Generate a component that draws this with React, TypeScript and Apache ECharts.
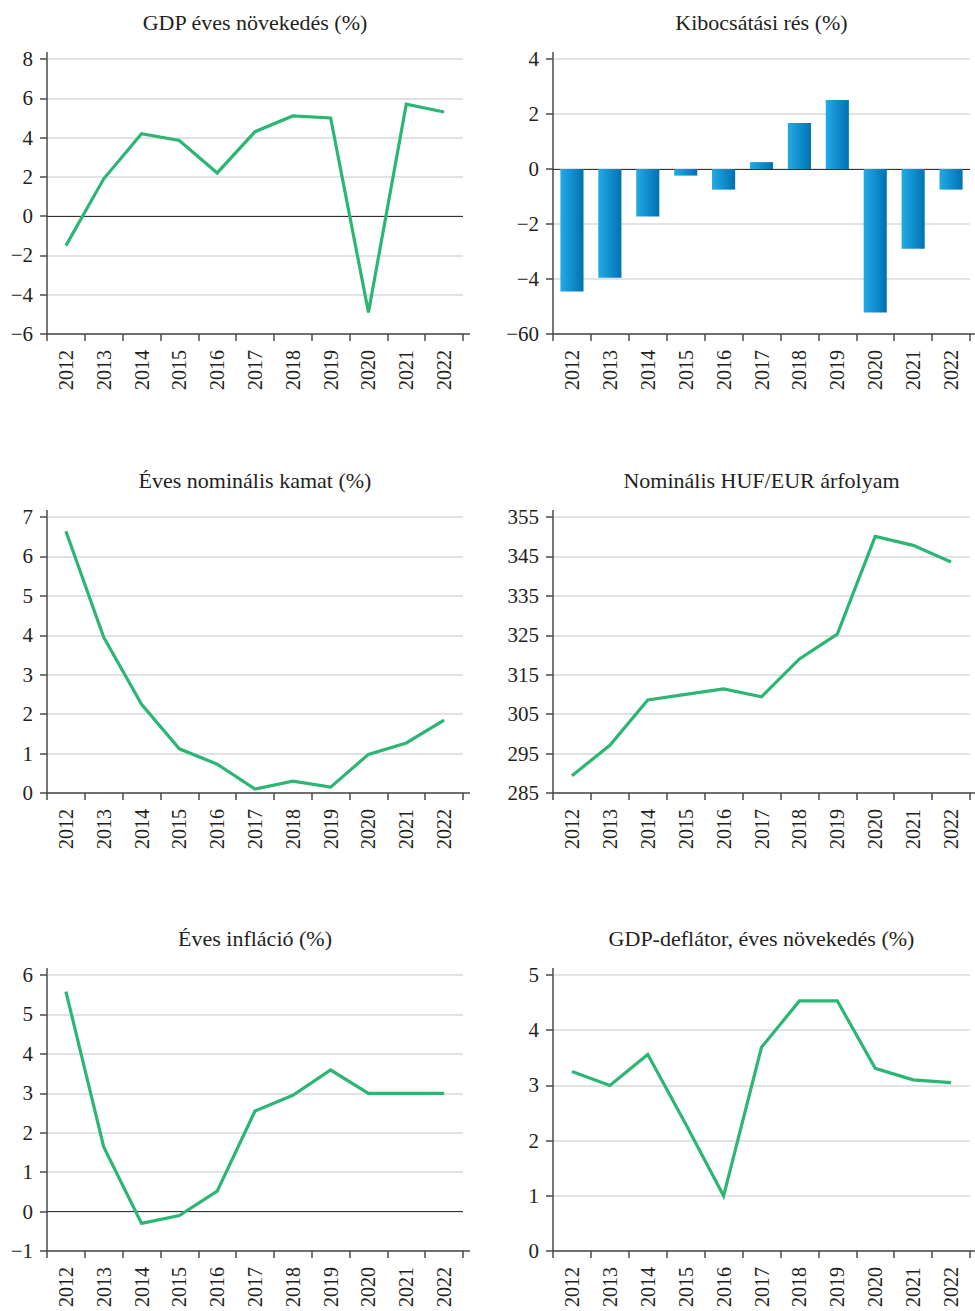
import React, { useEffect, useRef } from "react";
import * as echarts from "echarts";

const years = ["2012", "2013", "2014", "2015", "2016", "2017", "2018", "2019", "2020", "2021", "2022"];

const gdpGrowth = [-1.5, 1.9, 4.2, 3.85, 2.2, 4.3, 5.1, 5.0, -4.9, 5.7, 5.3];
const outputGap = [-4.45, -3.95, -1.73, -0.24, -0.75, 0.25, 1.67, 2.51, -5.22, -2.9, -0.75];
const nominalRate = [6.64, 3.95, 2.25, 1.12, 0.73, 0.1, 0.3, 0.15, 0.98, 1.27, 1.85];
const hufEur = [289.4, 297.1, 308.6, 310.0, 311.4, 309.4, 319.0, 325.3, 350.1, 347.8, 343.6];
const inflation = [5.58, 1.64, -0.3, -0.1, 0.52, 2.55, 2.95, 3.59, 3.0, 3.0, 3.0];
const deflator = [3.25, 3.0, 3.56, 2.3, 1.0, 3.69, 4.53, 4.53, 3.31, 3.1, 3.05];

const titles = [
  "GDP éves növekedés (%)",
  "Kibocsátási rés (%)",
  "Éves nominális kamat (%)",
  "Nominális HUF/EUR árfolyam",
  "Éves infláció (%)",
  "GDP-deflátor, éves növekedés (%)",
];

// [min, max, interval]
const yRanges = [
  [-6, 8, 2],
  [-6, 4, 2],
  [0, 7, 1],
  [285, 355, 10],
  [-1, 6, 1],
  [0, 5, 1],
];

const FONT = "'Liberation Serif', 'Times New Roman', serif";
const TEXT = "#231f20";
const AXIS = "#4a4a4a";
const GRID = "#d8d8d8";
const GREEN = "#2bb673";

const colLeft = [47, 553];
const colWidth = [416, 417];
const rowTop = [59, 517, 975];
const rowHeight = [275, 276, 276];
const titleY = [22, 480, 938];

function fmtMinus(v: number, idx: number) {
  if (idx === 1 && v === -6) return "\u221260";
  const s = String(v);
  return s.replace("-", "\u2212");
}

export default function App() {
  const ref = useRef<HTMLDivElement>(null);
  useEffect(() => {
    if (!ref.current) return;
    const chart = echarts.init(ref.current, undefined, { renderer: "svg" });
    const seriesData = [gdpGrowth, outputGap, nominalRate, hufEur, inflation, deflator];
    const grids: any[] = [];
    const xAxes: any[] = [];
    const yAxes: any[] = [];
    const series: any[] = [];
    const graphics: any[] = [];
    for (let i = 0; i < 6; i++) {
      const c = i % 2;
      const r = Math.floor(i / 2);
      const left = colLeft[c];
      const top = rowTop[r];
      const w = colWidth[c];
      const h = rowHeight[r];
      grids.push({ left, top, width: w, height: h, containLabel: false });
      xAxes.push({
        type: "category",
        gridIndex: i,
        data: years,
        boundaryGap: true,
        axisLine: { show: true, onZero: false, lineStyle: { color: AXIS, width: 1.5 } },
        axisTick: { show: true, length: 7, lineStyle: { color: AXIS, width: 1.5 } },
        axisLabel: { rotate: 90, margin: 16, fontFamily: FONT, fontSize: 20, color: TEXT },
        splitLine: { show: false },
      });
      const [mn, mx, iv] = yRanges[i];
      yAxes.push({
        type: "value",
        gridIndex: i,
        min: mn,
        max: mx,
        interval: iv,
        axisLine: { show: true, lineStyle: { color: AXIS, width: 1.5 } },
        axisTick: { show: true, length: 7, lineStyle: { color: AXIS, width: 1.5 } },
        axisLabel: {
          margin: 14,
          fontFamily: FONT,
          fontSize: 21,
          color: TEXT,
          formatter: (v: number) => fmtMinus(v, i),
        },
        splitLine: { show: true, lineStyle: { color: GRID, width: 1.5 } },
      });
      const hasZero = i === 0 || i === 1 || i === 4;
      const markLine = hasZero
        ? {
            silent: true,
            symbol: "none",
            label: { show: false },
            lineStyle: { color: "#333", width: 1.2, type: "solid" },
            data: [{ yAxis: 0 }],
            z: 1,
          }
        : undefined;
      if (i === 1) {
        series.push({
          type: "bar",
          xAxisIndex: i,
          yAxisIndex: i,
          data: seriesData[i],
          barWidth: "61%",
          itemStyle: {
            color: new echarts.graphic.LinearGradient(0, 0, 1, 0, [
              { offset: 0, color: "#22abe3" },
              { offset: 1, color: "#0071b4" },
            ]),
          },
          markLine,
          z: 2,
        });
      } else {
        series.push({
          type: "line",
          xAxisIndex: i,
          yAxisIndex: i,
          data: seriesData[i],
          symbol: "none",
          lineStyle: { color: GREEN, width: 3.2, join: "miter" },
          markLine,
          z: 3,
        });
      }
      graphics.push({
        type: "text",
        x: left + w / 2,
        y: titleY[r],
        style: {
          text: titles[i],
          fontFamily: FONT,
          fontSize: 22,
          fill: TEXT,
          align: "center",
          verticalAlign: "middle",
          textAlign: "center",
          textVerticalAlign: "middle",
        },
      });
      graphics.push({
        type: "line",
        shape: { x1: left, y1: top - 7, x2: left, y2: top },
        style: { stroke: AXIS, lineWidth: 1.5 },
      });
      graphics.push({
        type: "line",
        shape: { x1: left + w, y1: top + h, x2: left + w + 7, y2: top + h },
        style: { stroke: AXIS, lineWidth: 1.5 },
      });
    }
    chart.setOption({
      animation: false,
      backgroundColor: "#ffffff",
      grid: grids,
      xAxis: xAxes,
      yAxis: yAxes,
      series,
      graphic: graphics,
    });
    return () => chart.dispose();
  }, []);
  return (
    <div
      ref={ref}
      style={{ position: "absolute", left: 0, top: 0, width: 975, height: 1311, background: "#fff" }}
    />
  );
}
